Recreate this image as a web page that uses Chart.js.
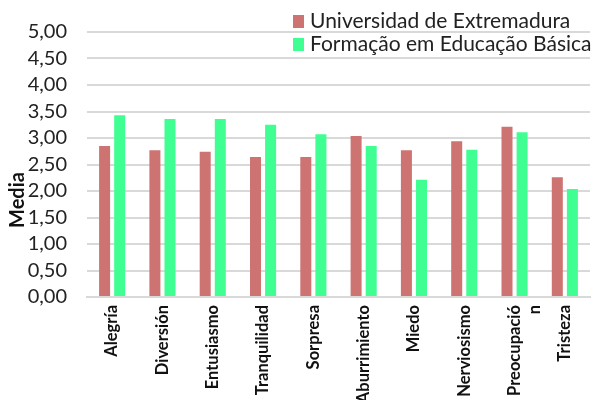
<!DOCTYPE html>
<html>
<head>
<meta charset="utf-8">
<script src="https://cdn.jsdelivr.net/npm/chart.js@4"></script>
<style>
  html, body { margin: 0; padding: 0; background: #fff; }
  #wrap { position: relative; width: 596px; height: 400px; }
  #legend { position: absolute; left: 293px; top: 8px; font-family: Lato, sans-serif; font-size: 21px; color: #222; line-height: 23px; }
  #legend div { white-space: nowrap; }
  #legend span { display: inline-block; width: 11px; height: 13px; margin-right: 6px; }
</style>
</head>
<body>
<div id="wrap">
  <canvas id="c" width="596" height="400"></canvas>
  <div id="legend"></div>
</div>
<script>
const categories = ["Alegría", "Diversión", "Entusiasmo", "Tranquilidad", "Sorpresa",
  "Aburrimiento", "Miedo", "Nerviosismo", ["Preocupació", "n"], "Tristeza"]
const seriesNames = ["Universidad de Extremadura", "Formação em Educação Básica"]
const uexValues = [2.85, 2.77, 2.74, 2.64, 2.64, 3.04, 2.77, 2.94, 3.21, 2.26]
const febValues = [3.43, 3.36, 3.36, 3.25, 3.07, 2.85, 2.21, 2.78, 3.11, 2.04]
const colors = ["#cd7371", "#3fff92"]

// y axis title drawn over the tick column, like the original
const yTitle = {
  id: "yTitle",
  afterDraw(chart) {
    const ctx = chart.ctx
    ctx.save()
    ctx.translate(18, 200)
    ctx.rotate(-Math.PI / 2)
    ctx.font = "bold 20px Lato"
    ctx.fillStyle = "#111"
    ctx.textAlign = "center"
    ctx.textBaseline = "middle"
    ctx.fillText("Media", 0, 0)
    ctx.restore()
  },
}

new Chart(document.getElementById("c"), {
  type: "bar",
  data: {
    labels: categories,
    datasets: [
      { label: seriesNames[0], data: uexValues, backgroundColor: colors[0] },
      { label: seriesNames[1], data: febValues, backgroundColor: colors[1] },
    ],
  },
  options: {
    responsive: false,
    animation: false,
    layout: { padding: { top: 22, right: 6, left: 0, bottom: 0 } },
    datasets: { bar: { categoryPercentage: 0.6, barPercentage: 0.73 } },
    plugins: { legend: { display: false }, tooltip: { enabled: false } },
    scales: {
      x: {
        afterFit: (s) => { s.height = 103 },
        grid: { display: false, drawTicks: false },
        border: { color: "#d9d9d9", width: 2 },
        ticks: {
          minRotation: 90, maxRotation: 90, padding: 8, autoSkip: false,
          color: "#111", font: { family: "Lato", size: 16.5, weight: "bold" },
        },
      },
      y: {
        min: 0, max: 5,
        afterFit: (s) => { s.width = 87 },
        grid: { color: "#d9d9d9", lineWidth: 2, drawTicks: false },
        border: { display: false },
        ticks: {
          stepSize: 0.5, autoSkip: false, padding: 20, color: "#222",
          font: { family: "Lato", size: 20 },
          callback: (v) => v.toFixed(2).replace(".", ","),
        },
      },
    },
  },
  plugins: [yTitle],
})

document.getElementById("legend").innerHTML = seriesNames
  .map((n, i) => `<div><span style="background:${colors[i]}"></span>${n}</div>`)
  .join("")
</script>
</body>
</html>
